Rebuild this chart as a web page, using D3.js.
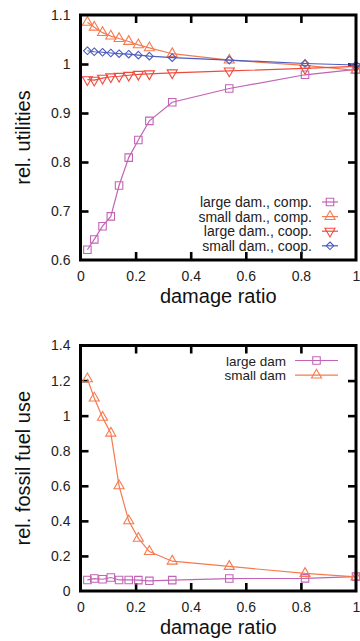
<!DOCTYPE html>
<html>
<head>
<meta charset="utf-8">
<script src="https://cdn.jsdelivr.net/npm/d3@7"></script>
<style>
  html, body { margin: 0; padding: 0; background: #fff; }
  svg { display: block; font-family: "Liberation Sans", Arial, sans-serif; }
</style>
</head>
<body>
<svg id="fig" width="360" height="641"></svg>
<script>
// damage ratios shared by both panels
const damageRatio = [0.025, 0.05, 0.08, 0.11, 0.14, 0.175, 0.21, 0.25, 0.333, 0.54, 0.815, 1.0];

// relative utilities
const largeComp = [0.621, 0.642, 0.669, 0.689, 0.752, 0.809, 0.845, 0.884, 0.922, 0.950, 0.978, 0.989];
const smallComp = [1.085, 1.075, 1.064, 1.057, 1.052, 1.046, 1.039, 1.033, 1.021, 1.008, 0.997, 0.987];
const largeCoop = [0.968, 0.967, 0.971, 0.974, 0.975, 0.977, 0.979, 0.980, 0.982, 0.986, 0.991, 0.995];
const smallCoop = [1.027, 1.025, 1.024, 1.0225, 1.021, 1.020, 1.018, 1.016, 1.013, 1.008, 1.001, 0.998];

// relative fossil fuel use
const fuelLarge = [0.063, 0.071, 0.067, 0.077, 0.063, 0.063, 0.062, 0.058, 0.062, 0.071, 0.072, 0.082];
const fuelSmall = [1.21, 1.10, 0.99, 0.90, 0.60, 0.40, 0.30, 0.225, 0.17, 0.14, 0.10, 0.08];

// tick values
const xTicks = [0, 0.2, 0.4, 0.6, 0.8, 1];
const utilTicks = [0.6, 0.7, 0.8, 0.9, 1.0, 1.1];
const fuelTicks = [0, 0.2, 0.4, 0.6, 0.8, 1.0, 1.2, 1.4];

const COLORS = { purple: "#c264b6", orange: "#f67a50", red: "#ef4b3c", blue: "#4d5cbd" };

// open diamond (square rotated 45 degrees)
const diamondType = {
  draw(ctx, size) {
    const r = Math.sqrt(size) / 2 * 1.2;
    ctx.moveTo(0, -r); ctx.lineTo(r, 0); ctx.lineTo(0, r); ctx.lineTo(-r, 0); ctx.closePath();
  }
};
const markers = {
  square: { type: d3.symbolSquare, size: 56, rot: 0 },
  tri: { type: d3.symbolTriangle, size: 44, rot: 0 },
  triDown: { type: d3.symbolTriangle, size: 44, rot: 180 },
  diamond: { type: diamondType, size: 40, rot: 0 }
};

const svg = d3.select("#fig");
const fmt = d => d3.format("~g")(d);

function panel(opts) {
  const { top, bottom, left, right, yDomain, yTicks, series, yTitle, legend } = opts;
  const x = d3.scaleLinear().domain([0, 1]).range([left, right]);
  const y = d3.scaleLinear().domain(yDomain).range([bottom, top]);
  const g = svg.append("g");

  const innerX = xTicks.filter(t => t > 0 && t < 1);
  const innerY = yTicks.filter(t => t > yDomain[0] && t < yDomain[1]);

  const styleAxis = (sel, hideText) => {
    sel.select(".domain").remove();
    sel.selectAll(".tick line").attr("stroke", "#000").attr("stroke-width", 2.6);
    sel.selectAll(".tick text").attr("fill", "#222").style("font-size", "14px");
    if (hideText) sel.selectAll(".tick text").remove();
  };

  // tick labels on bottom / left
  g.append("g").attr("transform", `translate(0,${bottom})`)
    .call(d3.axisBottom(x).tickValues(xTicks).tickFormat(fmt).tickSize(0).tickPadding(11))
    .call(s => styleAxis(s, false));
  g.append("g").attr("transform", `translate(${left},0)`)
    .call(d3.axisLeft(y).tickValues(yTicks).tickFormat(fmt).tickSize(0).tickPadding(10))
    .call(s => styleAxis(s, false));

  // inward ticks on all four sides
  g.append("g").attr("transform", `translate(0,${bottom})`)
    .call(d3.axisBottom(x).tickValues(innerX).tickSize(-8)).call(s => styleAxis(s, true));
  g.append("g").attr("transform", `translate(0,${top})`)
    .call(d3.axisTop(x).tickValues(innerX).tickSize(-8)).call(s => styleAxis(s, true));
  g.append("g").attr("transform", `translate(${left},0)`)
    .call(d3.axisLeft(y).tickValues(innerY).tickSize(-8)).call(s => styleAxis(s, true));
  g.append("g").attr("transform", `translate(${right},0)`)
    .call(d3.axisRight(y).tickValues(innerY).tickSize(-8)).call(s => styleAxis(s, true));

  // series
  const line = d3.line().x(d => x(d[0])).y(d => y(d[1]));
  series.forEach(s => {
    const pts = damageRatio.map((r, i) => [r, s.values[i]]);
    g.append("path").datum(pts).attr("d", line)
      .attr("fill", "none").attr("stroke", s.color).attr("stroke-width", 1.2);
    const m = markers[s.marker];
    g.selectAll(null).data(pts).enter().append("path")
      .attr("d", d3.symbol().type(m.type).size(m.size))
      .attr("transform", d => `translate(${x(d[0])},${y(d[1])}) rotate(${m.rot})`)
      .attr("fill", "none").attr("stroke", s.color).attr("stroke-width", 1.1);
  });

  // border
  g.append("rect").attr("x", left).attr("y", top)
    .attr("width", right - left).attr("height", bottom - top)
    .attr("fill", "none").attr("stroke", "#000").attr("stroke-width", 3);

  // legend
  series.forEach((s, i) => {
    const ly = legend.y + i * legend.dy;
    g.append("text").attr("x", legend.textX).attr("y", ly + 5)
      .attr("text-anchor", "end").attr("fill", "#222").style("font-size", legend.font)
      .text(s.name);
    g.append("line").attr("x1", legend.x1).attr("x2", legend.x2)
      .attr("y1", ly).attr("y2", ly).attr("stroke", s.color).attr("stroke-width", 1.2);
    const m = markers[s.marker];
    g.append("path").attr("d", d3.symbol().type(m.type).size(m.size))
      .attr("transform", `translate(${(legend.x1 + legend.x2) / 2},${ly}) rotate(${m.rot})`)
      .attr("fill", "none").attr("stroke", s.color).attr("stroke-width", 1.1);
  });

  // axis titles
  g.append("text").attr("x", (left + right) / 2).attr("y", bottom + 43)
    .attr("text-anchor", "middle").attr("fill", "#111").style("font-size", "20px")
    .text("damage ratio");
  g.append("text")
    .attr("transform", `translate(30,${(top + bottom) / 2}) rotate(-90)`)
    .attr("text-anchor", "middle").attr("fill", "#111").style("font-size", "20px")
    .text(yTitle);
}

panel({
  top: 15, bottom: 260, left: 80.5, right: 356,
  yDomain: [0.6, 1.1], yTicks: utilTicks, yTitle: "rel. utilities",
  series: [
    { name: "large dam., comp.", values: largeComp, color: COLORS.purple, marker: "square" },
    { name: "small dam., comp.", values: smallComp, color: COLORS.orange, marker: "tri" },
    { name: "large dam., coop.", values: largeCoop, color: COLORS.red, marker: "triDown" },
    { name: "small dam., coop.", values: smallCoop, color: COLORS.blue, marker: "diamond" }
  ],
  legend: { y: 202, dy: 14.6, textX: 312, x1: 322, x2: 338, font: "14px" }
});

panel({
  top: 345.5, bottom: 591, left: 80.5, right: 356,
  yDomain: [0, 1.4], yTicks: fuelTicks, yTitle: "rel. fossil fuel use",
  series: [
    { name: "large dam", values: fuelLarge, color: COLORS.purple, marker: "square" },
    { name: "small dam", values: fuelSmall, color: COLORS.orange, marker: "tri" }
  ],
  legend: { y: 360.5, dy: 14.6, textX: 286, x1: 295, x2: 338, font: "13.5px" }
});
</script>
</body>
</html>
